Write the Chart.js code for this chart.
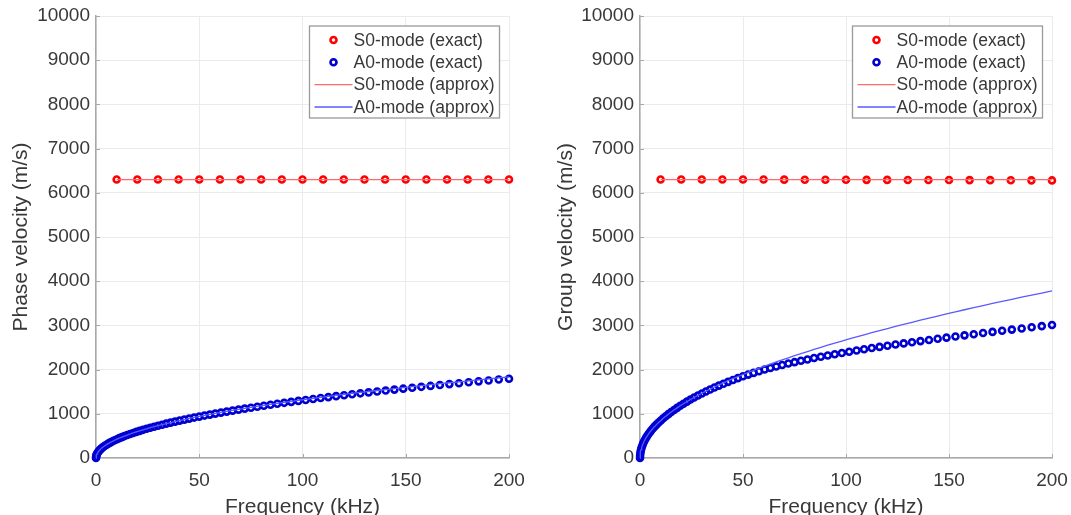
<!DOCTYPE html>
<html><head><meta charset="utf-8">
<script src="https://cdn.jsdelivr.net/npm/chart.js@4/dist/chart.umd.min.js"></script>
<style>
html,body{margin:0;padding:0;background:#fff;overflow:hidden;width:1071px;height:515px}
.wrap{position:absolute;top:0}
</style></head><body>
<div class="wrap" style="left:0px"><canvas id="c1" width="535" height="530"></canvas></div>
<div class="wrap" style="left:545px"><canvas id="c2" width="526" height="530"></canvas></div>
<script>
// ---- data ----
const s0Freq = [10,20,30,40,50,60,70,80,90,100,110,120,130,140,150,160,170,180,190,200];
const s0PhaseExact = [6300,6300,6300,6300,6300,6300,6300,6300,6300,6300,6300,6300,6300,6300,6300,6300,6300,6300,6300,6300];
const s0PhaseApprox = [6300,6300,6300,6300,6300,6300,6300,6300,6300,6300,6300,6300,6300,6300,6300,6300,6300,6300,6300,6300];
const s0GroupExact = [6300,6300,6300,6300,6300,6300,6298,6296,6295,6294,6293,6292,6290,6289,6288,6287,6286,6284,6282,6280];
const s0GroupApprox = [6300,6300,6300,6300,6300,6300,6300,6300,6300,6300,6300,6300,6300,6300,6300,6300,6300,6300,6300,6300];

const a0Freq = [0,0.03,0.13,0.28,0.5,0.78,1.13,1.53,2,2.53,3.13,3.78,4.5,5.28,6.13,7.03,8,9.03,10.13,11.28,
  12.5,13.78,15.13,16.53,18,19.53,21.13,22.78,24.5,26.28,28.13,30.03,32,34.03,36.13,38.28,40.5,42.78,45.13,47.53,
  50,52.53,55.13,57.78,60.5,63.28,66.13,69.03,72,75.03,78.13,81.28,84.5,87.78,91.13,94.53,98,101.53,105.13,108.78,
  112.5,116.28,120.13,124.03,128,132.03,136.13,140.28,144.5,148.78,153.13,157.53,162,166.53,171.13,175.78,180.5,185.28,190.13,195.03,200];
const a0PhaseExact = [0,23.6,47.2,70.9,94.5,118.1,141.7,165.3,189.0,212.6,236.2,259.8,283.4,307.1,330.7,354.3,377.9,401.5,425.2,448.8,
  472.4,496.0,519.6,543.3,566.9,590.5,614.0,637.4,660.9,684.2,707.5,730.7,753.9,777.0,800.1,823.0,845.9,868.8,891.7,914.4,
  937.0,959.7,982.2,1004.8,1027.2,1049.5,1071.8,1094.1,1116.4,1138.5,1160.5,1182.5,1204.5,1226.4,1248.2,1270.0,1291.7,1313.3,1335.0,1356.5,
  1377.9,1399.3,1420.7,1442.0,1463.2,1484.4,1505.5,1526.5,1547.6,1568.5,1589.3,1610.1,1630.8,1651.6,1672.2,1692.7,1713.2,1733.6,1754.1,1774.4,1794.6];
const a0PhaseApprox = [0,23.6,47.2,70.9,94.5,118.1,141.7,165.3,189.0,212.6,236.2,259.8,283.4,307.1,330.7,354.3,377.9,401.5,425.2,448.8,
  472.4,496.0,519.6,543.3,566.9,590.5,614.0,637.5,661.1,684.5,708.0,731.3,754.6,778.0,801.3,824.5,847.7,870.8,894.0,917.1,
  940.2,963.2,986.1,1009.1,1032.0,1054.9,1077.7,1100.5,1123.3,1146.0,1168.7,1191.4,1214.0,1236.6,1259.1,1281.6,1304.1,1326.5,1349.0,1371.3,
  1393.6,1415.9,1438.2,1460.5,1482.6,1504.8,1526.8,1548.9,1571.0,1593.0,1614.9,1636.9,1658.7,1680.7,1702.5,1724.2,1746.0,1767.7,1789.4,1811.0,1832.6];
const a0GroupExact = [0,47,94,142,189,236,283,331,378,425,472,520,567,614,661,709,756,803,850,898,
  945,992,1039,1087,1134,1181,1228,1275,1323,1369,1415,1460,1506,1550,1594,1637,1681,1723,1765,1807,
  1849,1887,1925,1963,2001,2035,2069,2103,2137,2168,2199,2230,2261,2290,2319,2348,2377,2405,2432,2460,
  2487,2514,2540,2567,2593,2619,2645,2671,2697,2723,2749,2775,2801,2827,2853,2879,2905,2931,2957,2983,3009];
const a0GroupApprox = [0,47.2,94.5,141.7,189.0,236.2,283.4,330.7,377.9,425.2,472.4,519.6,566.9,614.1,661.4,708.6,755.8,803.1,850.3,897.6,
  944.8,992.0,1039.3,1086.5,1133.8,1181.0,1228.2,1275.5,1322.7,1370.0,1417.2,1464.4,1511.7,1558.9,1606.2,1653.4,1700.6,1747.9,1795.1,1842.4,
  1889.6,1936.8,1984.1,2031.3,2078.6,2125.8,2173.0,2220.3,2267.5,2314.8,2362.0,2409.2,2456.5,2503.7,2551.0,2598.2,2645.4,2692.7,2739.9,2787.2,
  2834.4,2881.6,2928.9,2976.1,3023.4,3070.6,3117.8,3165.1,3212.3,3259.6,3306.8,3354.0,3401.3,3448.5,3495.8,3543.0,3590.2,3637.5,3684.7,3732.0,3779.2];

const legendLabels = ['S0-mode (exact)','A0-mode (exact)','S0-mode (approx)','A0-mode (approx)'];
const xTitle = 'Frequency (kHz)';
const yTitles = ['Phase velocity (m/s)','Group velocity (m/s)'];
const xTickStep = 50, yTickStep = 1000;

// ---- styling ----
const FONT = "'Liberation Sans', Arial, Helvetica, sans-serif";
const TXT = '#383838';
const AXIS = '#a8a8a8';
const GRID = '#ebebeb';
const RED = '#ff0000', BLUE = '#0000d0';
const RED_L = '#ff6a6a', BLUE_L = '#5a5aff';
const PT_R = 3, PT_W = 2.6;

function pts(xs, ys){ return xs.map((x,i)=>({x:x, y:ys[i]})); }

const legendPlugin = {
  id:'boxLegend',
  afterDatasetsDraw(chart){
    const ctx = chart.ctx, a = chart.chartArea;
    const w = 190, h = 92;
    const x0 = a.right - 9.5 - w, y0 = a.top + 10;
    ctx.save();
    ctx.fillStyle = '#fff';
    ctx.fillRect(x0, y0, w, h);
    ctx.strokeStyle = '#9a9a9a';
    ctx.lineWidth = 1.3;
    ctx.strokeRect(x0, y0, w, h);
    ctx.font = '17.5px ' + FONT;
    ctx.textBaseline = 'middle';
    ctx.textAlign = 'left';
    const rows = [14, 36.3, 58.6, 81];
    const styles = [
      {type:'pt', color:RED}, {type:'pt', color:BLUE},
      {type:'ln', color:RED_L}, {type:'ln', color:BLUE_L}
    ];
    styles.forEach((s,i)=>{
      const y = y0 + rows[i];
      if (s.type==='pt'){
        ctx.beginPath(); ctx.arc(x0+24, y, PT_R, 0, Math.PI*2);
        ctx.strokeStyle = s.color; ctx.lineWidth = PT_W; ctx.stroke();
      } else {
        ctx.beginPath(); ctx.moveTo(x0+5, y); ctx.lineTo(x0+43, y);
        ctx.strokeStyle = s.color; ctx.lineWidth = 1.3; ctx.stroke();
      }
      ctx.fillStyle = TXT;
      ctx.fillText(legendLabels[i], x0+44, y+1);
    });
    ctx.restore();
  }
};

const inwardTicks = {
  id:'inwardTicks',
  beforeDatasetsDraw(chart){
    const ctx = chart.ctx, a = chart.chartArea, xs = chart.scales.x, ys = chart.scales.y;
    ctx.save();
    ctx.strokeStyle = AXIS; ctx.lineWidth = 1;
    xs.ticks.forEach(t=>{ const px = Math.round(xs.getPixelForValue(t.value))+0.5;
      ctx.beginPath(); ctx.moveTo(px, a.bottom); ctx.lineTo(px, a.bottom-4); ctx.stroke(); });
    ys.ticks.forEach(t=>{ const py = Math.round(ys.getPixelForValue(t.value))+0.5;
      ctx.beginPath(); ctx.moveTo(a.left, py); ctx.lineTo(a.left+4, py); ctx.stroke(); });
    ctx.restore();
  }
};

function makeChart(id, yTitle, s0E, s0A, a0E, a0A, rightPad, yWidth){
  const ptStyle = (c)=>({showLine:false, pointRadius:PT_R, pointHoverRadius:PT_R, pointBorderWidth:PT_W,
    pointBorderColor:c, pointBackgroundColor:'rgba(0,0,0,0)', borderColor:c, backgroundColor:c, clip:false});
  const lnStyle = (c)=>({showLine:true, pointRadius:0, borderWidth:1.3, borderColor:c, backgroundColor:c, tension:0, clip:false});
  return new Chart(document.getElementById(id), {
    type:'scatter',
    data:{ datasets:[
      Object.assign({label:legendLabels[0], data:pts(s0Freq, s0E), order:2}, ptStyle(RED)),
      Object.assign({label:legendLabels[1], data:pts(a0Freq, a0E), order:2}, ptStyle(BLUE)),
      Object.assign({label:legendLabels[2], data:pts(s0Freq, s0A), order:1}, lnStyle(RED_L)),
      Object.assign({label:legendLabels[3], data:pts(a0Freq, a0A), order:1}, lnStyle(BLUE_L))
    ]},
    options:{
      responsive:false, animation:false, events:[],
      layout:{padding:{left:0, top:16, right:rightPad, bottom:0}},
      plugins:{legend:{display:false}, tooltip:{enabled:false}},
      scales:{
        x:{type:'linear', min:0, max:200,
           ticks:{stepSize:xTickStep, color:TXT, font:{family:FONT, size:19}, padding:0, maxRotation:0,
                  callback:(v)=>String(v)},
           grid:{color:GRID, drawTicks:true, tickLength:11, tickColor:'rgba(0,0,0,0)', lineWidth:1},
           border:{color:AXIS, width:1.5},
           title:{display:true, text:xTitle, color:TXT, font:{family:FONT, size:21}, padding:{top:0, bottom:10}},
           afterFit:(s)=>{ s.height = 72; }
        },
        y:{type:'linear', min:0, max:10000,
           ticks:{stepSize:yTickStep, color:TXT, font:{family:FONT, size:19}, padding:0,
                  callback:(v)=>String(v)},
           grid:{color:GRID, drawTicks:true, tickLength:6, tickColor:'rgba(0,0,0,0)', lineWidth:1},
           border:{color:AXIS, width:1.5},
           title:{display:true, text:yTitle, color:TXT, font:{family:FONT, size:21}, padding:{top:9, bottom:0}},
           afterFit:(s)=>{ s.width = yWidth; }
        }
      }
    },
    plugins:[inwardTicks, legendPlugin]
  });
}

makeChart('c1', yTitles[0], s0PhaseExact, s0PhaseApprox, a0PhaseExact, a0PhaseApprox, 26, 96);
makeChart('c2', yTitles[1], s0GroupExact, s0GroupApprox, a0GroupExact, a0GroupApprox, 19, 95);
</script>
</body></html>
